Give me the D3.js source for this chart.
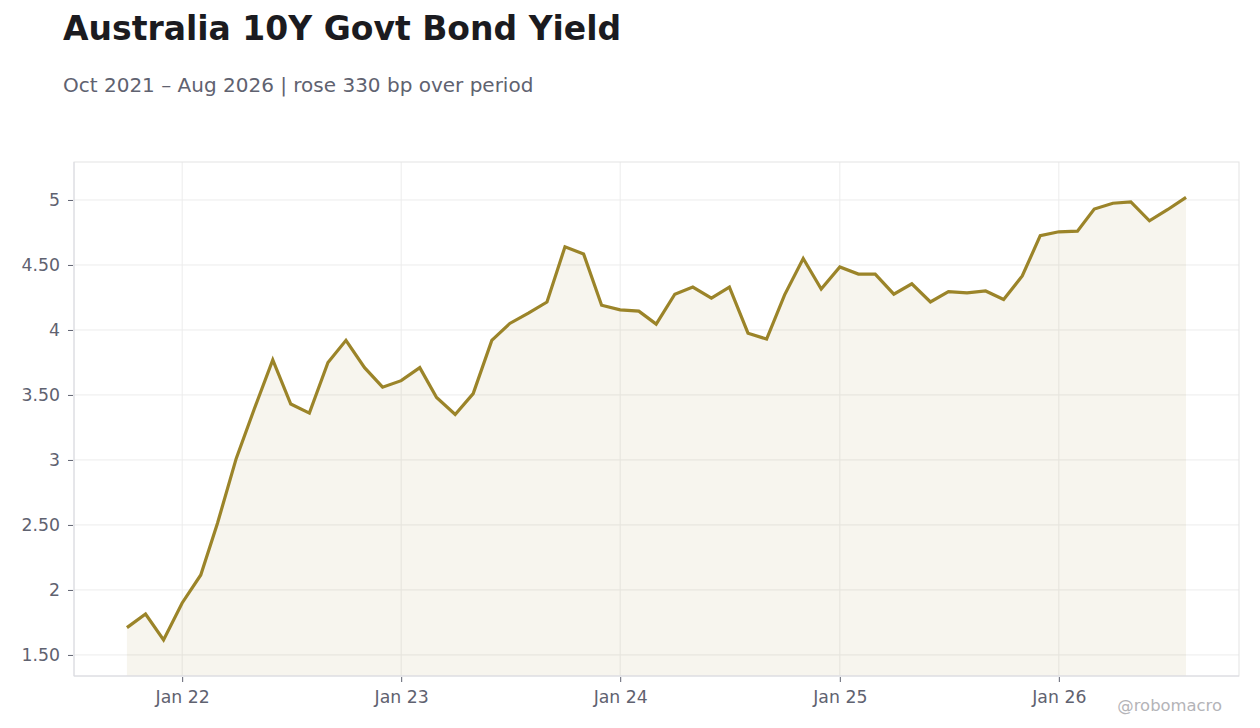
<!DOCTYPE html>
<html>
<head>
<meta charset="utf-8">
<script src="https://cdn.jsdelivr.net/npm/d3@7/dist/d3.min.js"></script>
<style>
	html, body { margin: 0; padding: 0; background: #fff; }
	svg { display: block; font-family: "DejaVu Sans", sans-serif; }
</style>
</head>
<body>
<div id="chart"></div>
<script>
// monthly observations, Oct 2021 - Aug 2026
var months = [
	"2021-10","2021-11","2021-12",
	"2022-01","2022-02","2022-03","2022-04","2022-05","2022-06","2022-07","2022-08","2022-09","2022-10","2022-11","2022-12",
	"2023-01","2023-02","2023-03","2023-04","2023-05","2023-06","2023-07","2023-08","2023-09","2023-10","2023-11","2023-12",
	"2024-01","2024-02","2024-03","2024-04","2024-05","2024-06","2024-07","2024-08","2024-09","2024-10","2024-11","2024-12",
	"2025-01","2025-02","2025-03","2025-04","2025-05","2025-06","2025-07","2025-08","2025-09","2025-10","2025-11","2025-12",
	"2026-01","2026-02","2026-03","2026-04","2026-05","2026-06","2026-07","2026-08"
];
var yields = [
	1.71, 1.815, 1.615,
	1.90, 2.115, 2.515, 3.01, 3.39, 3.77, 3.43, 3.36, 3.75, 3.92, 3.71, 3.56,
	3.61, 3.71, 3.48, 3.35, 3.51, 3.92, 4.05, 4.13, 4.215, 4.64, 4.585, 4.19,
	4.155, 4.145, 4.045, 4.275, 4.33, 4.245, 4.33, 3.975, 3.93, 4.27, 4.55, 4.315,
	4.485, 4.43, 4.43, 4.275, 4.355, 4.215, 4.295, 4.285, 4.30, 4.235, 4.415, 4.725,
	4.755, 4.76, 4.93, 4.975, 4.985, 4.84, 4.925, 5.02
];
var yTicks = [1.5, 2, 2.5, 3, 3.5, 4, 4.5, 5];
var xTickMonths = ["2022-01","2023-01","2024-01","2025-01","2026-01"];
var xTickLabels = ["Jan 22","Jan 23","Jan 24","Jan 25","Jan 26"];

var W = 1260, H = 728;
var plot = {left: 74, right: 1239, top: 162, bottom: 676};
var lineColor = "#9b8429";
var textColor = "#5f6270";

var parseMonth = d3.timeParse("%Y-%m");
var data = months.map(function(m, i){ return {date: parseMonth(m), v: yields[i]}; });

var svg = d3.select("#chart").append("svg")
	.attr("width", W).attr("height", H);

// titles
svg.append("text")
	.attr("x", 63).attr("y", 40)
	.style("font-size", "33px").style("font-weight", "bold")
	.style("fill", "#1b1b20")
	.text("Australia 10Y Govt Bond Yield");
svg.append("text")
	.attr("x", 63).attr("y", 92)
	.style("font-size", "20px")
	.style("fill", textColor)
	.text("Oct 2021 \u2013 Aug 2026 | rose 330 bp over period");

// scales
var ext = d3.extent(data, function(d){ return d.date; });
var pad = (ext[1] - ext[0]) * 0.05;
var x = d3.scaleTime()
	.domain([new Date(+ext[0] - pad), new Date(+ext[1] + pad)])
	.range([plot.left, plot.right]);
var y = d3.scaleLinear()
	.domain([1.338, 5.292])
	.range([plot.bottom, plot.top]);

var xTickDates = xTickMonths.map(parseMonth);

// grid
var grid = svg.append("g").attr("class", "grid");
grid.selectAll("line.h").data(yTicks).enter().append("line")
	.attr("x1", plot.left).attr("x2", plot.right)
	.attr("y1", function(d){ return y(d); }).attr("y2", function(d){ return y(d); })
	.style("stroke", "#ececec").style("stroke-width", 1);
grid.selectAll("line.v").data(xTickDates).enter().append("line")
	.attr("y1", plot.top).attr("y2", plot.bottom)
	.attr("x1", function(d){ return x(d); }).attr("x2", function(d){ return x(d); })
	.style("stroke", "#ececec").style("stroke-width", 1);

// area + line
var area = d3.area()
	.x(function(d){ return x(d.date); })
	.y0(plot.bottom)
	.y1(function(d){ return y(d.v); });
svg.append("path").datum(data)
	.attr("d", area)
	.style("fill", lineColor).style("fill-opacity", 0.08);

var line = d3.line()
	.x(function(d){ return x(d.date); })
	.y(function(d){ return y(d.v); });
svg.append("path").datum(data)
	.attr("d", line)
	.style("fill", "none").style("stroke", lineColor)
	.style("stroke-width", 3.2).style("stroke-linejoin", "miter");

// frame
svg.append("rect")
	.attr("x", plot.left).attr("y", plot.top)
	.attr("width", plot.right - plot.left).attr("height", plot.bottom - plot.top)
	.style("fill", "none").style("stroke", "#e3e3e3").style("stroke-width", 1);

// axes
var fmtY = function(d){ return Number.isInteger(d) ? String(d) : d.toFixed(2); };
var yAxis = d3.axisLeft(y).tickValues(yTicks).tickFormat(fmtY).tickSize(5).tickPadding(8);
var xAxis = d3.axisBottom(x).tickValues(xTickDates)
	.tickFormat(function(d, i){ return xTickLabels[i]; }).tickSize(5).tickPadding(9);

var gy = svg.append("g").attr("transform", "translate(" + (plot.left - 1) + ",0)").call(yAxis);
var gx = svg.append("g").attr("transform", "translate(0," + (plot.bottom + 1) + ")").call(xAxis);
[gy, gx].forEach(function(g){
	g.select(".domain").remove();
	g.selectAll(".tick line").style("stroke", textColor);
	g.selectAll(".tick text")
		.style("fill", textColor)
		.style("font-size", "17.3px")
		.style("font-family", "DejaVu Sans, sans-serif");
});
svg.append("line")
	.attr("x1", plot.left).attr("x2", plot.right)
	.attr("y1", plot.bottom).attr("y2", plot.bottom)
	.style("stroke", "#dadbe2");
svg.append("line")
	.attr("x1", plot.left).attr("x2", plot.left)
	.attr("y1", plot.top).attr("y2", plot.bottom)
	.style("stroke", "#dadbe2");

// watermark
svg.append("text")
	.attr("x", 1222).attr("y", 711)
	.attr("text-anchor", "end")
	.style("font-size", "16.4px")
	.style("fill", "#b4b4b8")
	.text("@robomacro");
</script>
</body>
</html>
